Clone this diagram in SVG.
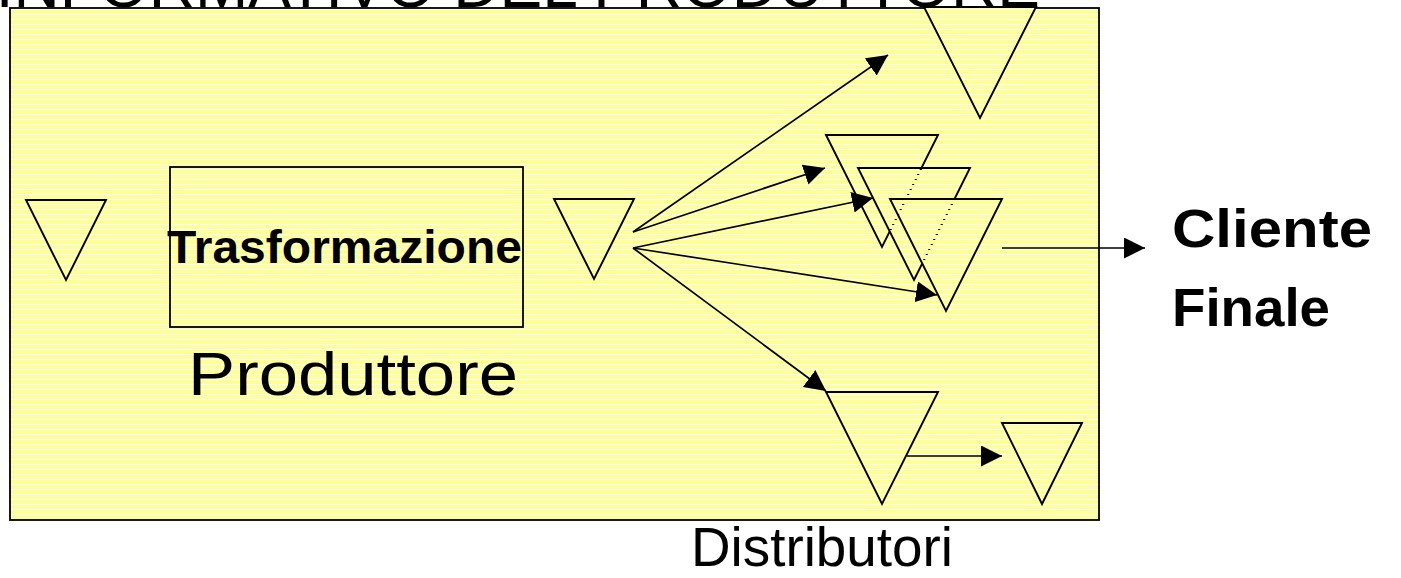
<svg xmlns="http://www.w3.org/2000/svg" width="1401" height="578" viewBox="0 0 1401 578">
<style>
.tri{fill:url(#stripes);stroke:#000;stroke-width:1.9;stroke-linejoin:miter}
.box{fill:url(#stripes);stroke:#000;stroke-width:1.8}
.conn{fill:none;stroke:#000;stroke-width:1.7;marker-end:url(#ah)}
.txt{font-family:"Comic Sans MS","Liberation Sans",sans-serif;fill:#000}
.b{font-weight:bold}
</style>
<defs>
<pattern id="stripes" patternUnits="userSpaceOnUse" x="0" y="0" width="10" height="5">
<rect x="0" y="0" width="10" height="4" fill="#FFFF99"/>
</pattern>
<marker id="ah" markerUnits="userSpaceOnUse" markerWidth="22" markerHeight="22" refX="21" refY="10.5" orient="auto">
<path d="M0,0 L21,10.5 L0,21 z" fill="#000"/>
</marker>
</defs>
<rect width="1401" height="578" fill="#fff"/>
<text class="txt" x="1040" y="7" font-size="64" text-anchor="end">INFORMATIVO DEL PRODUTTORE</text>
<g id="produttore-area">
<rect class="box" x="10" y="8" width="1089" height="512" stroke-width="2"/>
</g>
<g id="tri-in">
<polygon class="tri" points="26,200 106,200 66,280"/>
</g>
<g id="trasformazione">
<rect class="box" x="170" y="167" width="353" height="160"/>
<text class="txt b" x="167" y="263" font-size="47" textLength="355" lengthAdjust="spacingAndGlyphs">Trasformazione</text>
</g>
<g id="label-produttore">
<text class="txt" x="188" y="395" font-size="62" textLength="330" lengthAdjust="spacingAndGlyphs">Produttore</text>
</g>
<g id="tri-out">
<polygon class="tri" points="554,199 634,199 594,279"/>
</g>
<g id="tri-top">
<polygon class="tri" points="924,7 1036,7 980,118"/>
</g>
<g id="tri-d1">
<polygon class="tri" points="826,135 938,135 882,247"/>
</g>
<g id="tri-d2">
<polygon class="tri" points="858,168 970,168 914,280"/>
</g>
<g id="tri-d3">
<polygon class="tri" points="890,199 1002,199 946,311"/>
</g>
<g id="tri-bottom">
<polygon class="tri" points="826,392 938,392 882,504"/>
</g>
<g id="tri-small">
<polygon class="tri" points="1002,423 1082,423 1042,504"/>
</g>
<g id="cliente">
<text class="txt b" x="1172" y="247" font-size="54" textLength="200" lengthAdjust="spacingAndGlyphs">Cliente</text>
<text class="txt b" x="1172" y="326" font-size="54" textLength="158" lengthAdjust="spacingAndGlyphs">Finale</text>
</g>
<g id="label-distributori">
<text class="txt" x="691" y="566" font-size="56" textLength="262" lengthAdjust="spacingAndGlyphs">Distributori</text>
</g>
<g id="connectors">
<line class="conn" x1="633" y1="232" x2="888" y2="55"/>
<line class="conn" x1="633" y1="232" x2="825" y2="168"/>
<line class="conn" x1="633" y1="248" x2="873" y2="198"/>
<line class="conn" x1="633" y1="248" x2="937" y2="295"/>
<line class="conn" x1="633" y1="248" x2="826" y2="391"/>
<line class="conn" x1="907" y1="456" x2="1002" y2="456"/>
<line class="conn" x1="1002" y1="248" x2="1145" y2="248"/>
</g>
</svg>
